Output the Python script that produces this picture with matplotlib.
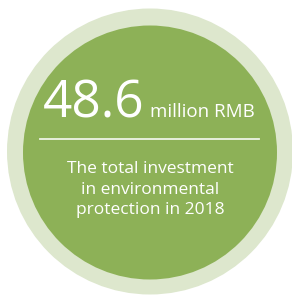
import matplotlib
matplotlib.use("Agg")
import matplotlib.pyplot as plt
from matplotlib.patches import Circle

# Contenu du badge
value = 48.6
unit = "million RMB"
caption = ["The total investment", "in environmental", "protection in 2018"]

light_green = "#dde7cd"
green = "#8db157"

fig = plt.figure(figsize=(2.92, 2.96), dpi=100)
ax = fig.add_axes([0, 0, 1, 1])
ax.set_xlim(0, 292)
ax.set_ylim(296, 0)
ax.set_aspect("equal")
ax.axis("off")

# Cercles (anneau clair + disque vert)
ax.add_patch(Circle((150, 151.5), 143, color=light_green, lw=0))
ax.add_patch(Circle((150, 152.5), 127, color=green, lw=0))

# Valeur principale + unité
ax.text(145, 117, f"{value:.1f}", color="white", fontsize=37, family="Open Sans",
        fontweight="medium", ha="right", va="baseline")
ax.text(150, 117, unit, color="white", fontsize=13.5, family="Open Sans",
        ha="left", va="baseline")

# Séparateur
ax.plot([40, 259], [139, 139], color="white", lw=1.3, alpha=0.85)

# Légende
for i, line in enumerate(caption):
    ax.text(150, 173 + i * 20.5, line, color="white", fontsize=12.5, family="Open Sans",
            ha="center", va="baseline")

fig.savefig("out.png", dpi=100)
